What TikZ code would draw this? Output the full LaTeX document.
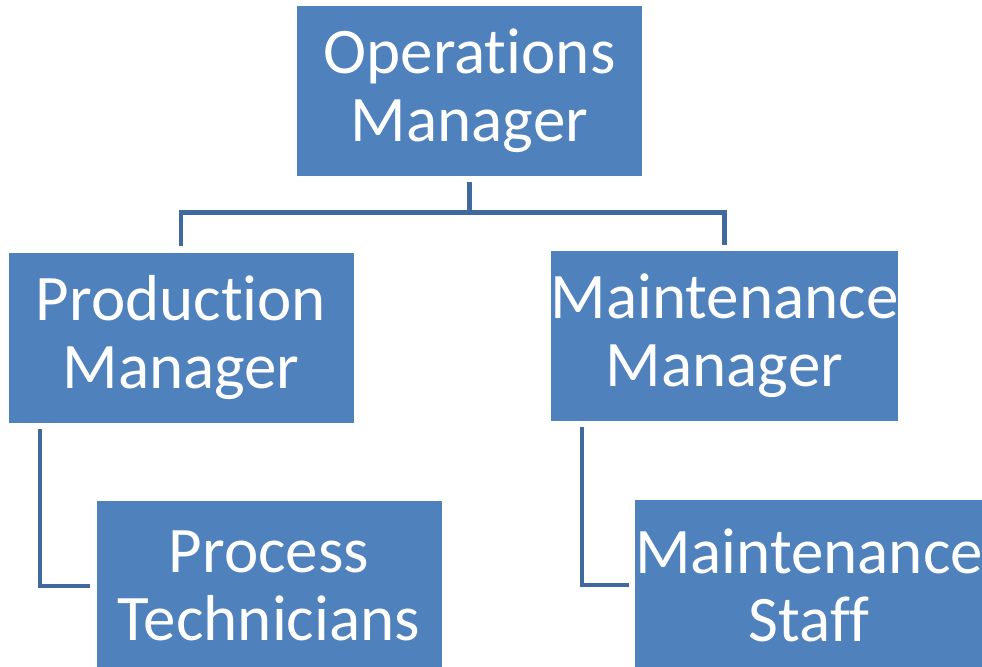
\documentclass[tikz,border=0pt]{standalone}
\usepackage{fontspec}
\setmainfont{Carlito}[Ligatures={NoCommon,NoRare}]
\usetikzlibrary{positioning,calc}
\definecolor{boxblue}{RGB}{79,129,189}
\definecolor{lineblue}{RGB}{64,106,158}

\begin{document}
\begin{tikzpicture}[x=0.5pt,y=-0.5pt,
        role/.style={rectangle,fill=boxblue,text=white,align=center,inner sep=0pt,
          minimum width=172.5pt,minimum height=85pt,font=\fontsize{32.5}{34}\selectfont},
        link/.style={draw=lineblue,line width=2.3pt,shorten <=3pt,shorten >=3pt}]
        \useasboundingbox (0,0) rectangle (982,666);
        \node[role] at (469.5,91) (ops) {Operations\\Manager};
        \node[role] at (181,337.5) (pm) {Production\\Manager};
        \node[role] at (724.5,336) (mm) {Maintenance\\Manager};
        \node[role] at (269,586) (pt) {Process\\Technicians};
        \node[role] at (809,585) (ms) {Maintenance\\Staff};
        % top level
        \draw[link] (ops.south) -- ++(0,36) -| (pm.north);
        \draw[link] (ops.south) -- ++(0,36) -| (mm.north);
        % second level
        \draw[link] ([xshift=16pt]pm.south west) |- (pt.west);
        \draw[link] ([xshift=16pt]mm.south west) |- (ms.west);
      \end{tikzpicture}
\end{document}
